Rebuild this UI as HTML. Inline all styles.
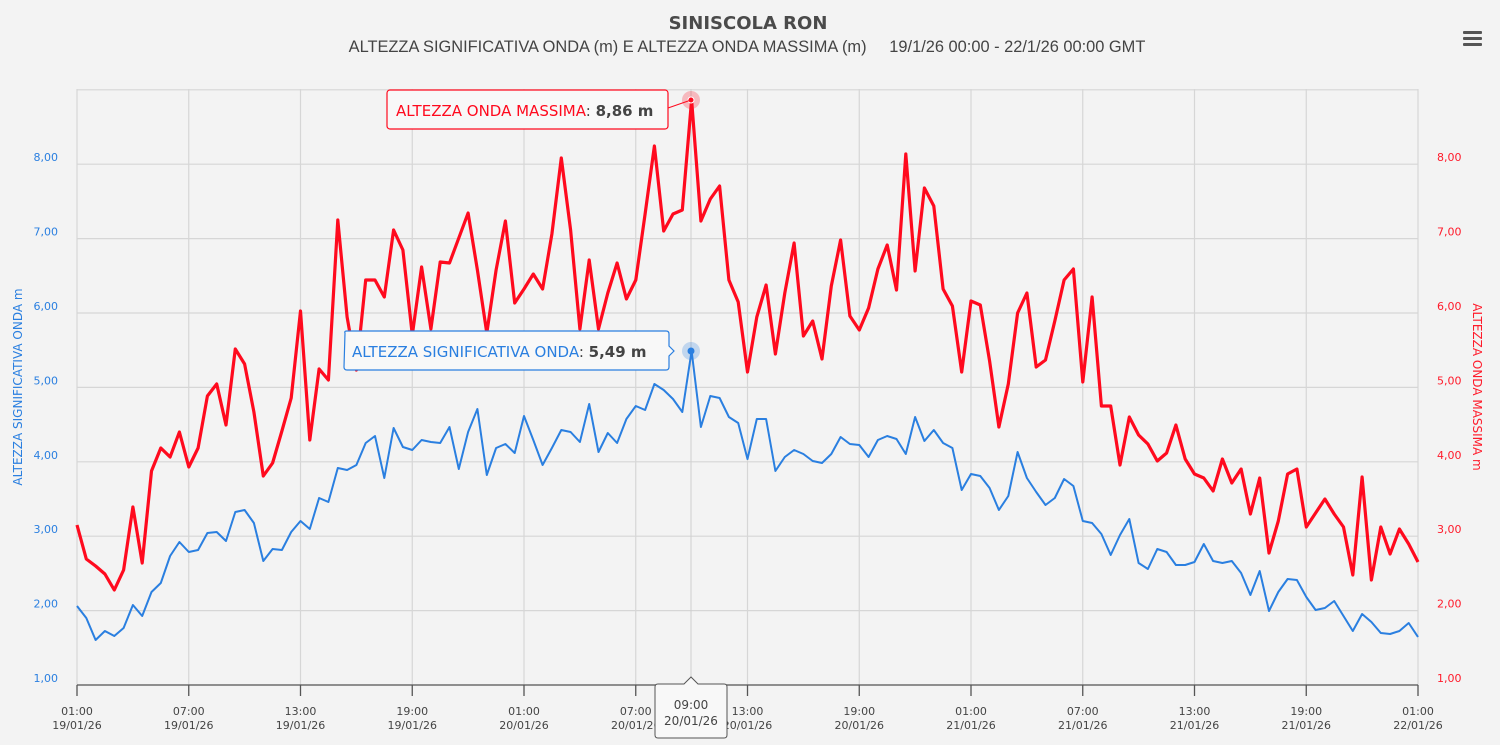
<!DOCTYPE html>
<html><head><meta charset="utf-8">
<style>
html,body{margin:0;padding:0;background:#f3f3f3;}
svg{display:block;font-family:"DejaVu Sans","Liberation Sans",sans-serif;}
</style></head>
<body>
<svg id="c" width="1500" height="745" viewBox="0 0 1500 745" xmlns="http://www.w3.org/2000/svg">
<rect width="1500" height="745" fill="#f3f3f3"/>
<g id="grid" stroke="#d6d6d6" stroke-width="1.2"></g>
<line x1="77" y1="685" x2="1418" y2="685" stroke="#555" stroke-width="1.3"/>
<g id="ticks" stroke="#555" stroke-width="1.3"></g>
<g id="lab" font-size="11" fill="#444"></g>
<text x="748" y="29" text-anchor="middle" font-size="18" font-weight="bold" fill="#4a4a4a">SINISCOLA RON</text>
<text x="747" y="52" text-anchor="middle" font-size="16.4" fill="#444" font-family="Liberation Sans, sans-serif">ALTEZZA SIGNIFICATIVA ONDA (m) E ALTEZZA ONDA MASSIMA (m)&#160;&#160;&#160;&#160; 19/1/26 00:00 - 22/1/26 00:00 GMT</text>
<g fill="#555"><rect x="1463" y="31" width="19" height="3" rx="1"/><rect x="1463" y="37" width="19" height="3" rx="1"/><rect x="1463" y="43" width="19" height="3" rx="1"/></g>
<text transform="translate(22,387) rotate(-90)" text-anchor="middle" font-size="12" fill="#2a7fe0">ALTEZZA SIGNIFICATIVA ONDA m</text>
<text transform="translate(1473,387) rotate(90)" text-anchor="middle" font-size="12" fill="#ff1a2a">ALTEZZA ONDA MASSIMA m</text>
<line x1="691" y1="89" x2="691" y2="685" stroke="#cfcfcf" stroke-width="1"/>
<polyline id="red" fill="none" stroke="#ff0a1e" stroke-width="3.2" stroke-linejoin="round"/>
<polyline id="blue" fill="none" stroke="#2a7fe0" stroke-width="2" stroke-linejoin="round"/>
<circle cx="691" cy="100" r="9" fill="#ff0a1e" opacity="0.25"/>
<circle cx="691" cy="100" r="3" fill="#ff0a1e" stroke="#fff" stroke-width="1"/>
<circle cx="691" cy="351" r="9" fill="#2a7fe0" opacity="0.25"/>
<circle cx="691" cy="351" r="3.5" fill="#2a7fe0"/>
<line x1="668" y1="108" x2="691" y2="100" stroke="#ff0a1e" stroke-width="1"/>
<rect x="387" y="90" width="281" height="39" rx="3" fill="#f8f8f8" stroke="#ff0a1e" stroke-width="1.2"/>
<text x="396" y="116" font-size="15" fill="#ff0a1e">ALTEZZA ONDA MASSIMA<tspan fill="#444">: </tspan><tspan font-weight="bold" fill="#444">8,86 m</tspan></text>
<path d="M345 333 Q344 331 347 331 L666 331 Q669 331 669 334 L669 346 L674 351 L669 356 L669 367 Q669 370 666 370 L347 370 Q344 370 344 367 Z" fill="#f8f8f8" stroke="#2a7fe0" stroke-width="1.2"/>
<text x="352" y="357" font-size="15" fill="#2a7fe0">ALTEZZA SIGNIFICATIVA ONDA<tspan fill="#444">: </tspan><tspan font-weight="bold" fill="#444">5,49 m</tspan></text>
<path d="M658 684 L684 684 L691 677 L698 684 L724 684 Q727 684 727 687 L727 735 Q727 738 724 738 L658 738 Q655 738 655 735 L655 687 Q655 684 658 684 Z" fill="#f8f8f8" stroke="#555" stroke-width="1"/>
<text x="691" y="709" text-anchor="middle" font-size="12" fill="#444">09:00</text>
<text x="691" y="725" text-anchor="middle" font-size="12" fill="#444">20/01/26</text>
</svg>
<script>
var NS="http://www.w3.org/2000/svg";
function el(t,a,p,txt){var e=document.createElementNS(NS,t);for(var k in a)e.setAttribute(k,a[k]);if(txt!=null)e.textContent=txt;p.appendChild(e);return e;}
var g=document.getElementById('grid'),tk=document.getElementById('ticks'),lb=document.getElementById('lab');
for(var v=1;v<=9;v++){var y=685-(v-1)*74.4;el('line',{x1:77,y1:y,x2:1418,y2:y},g);
 if(v<9){var s=v+",00";
 el('text',{x:58,y:y-3,'text-anchor':'end',fill:'#2a7fe0'},lb,s);
 el('text',{x:1437,y:y-3,'text-anchor':'start',fill:'#ff1a2a'},lb,s);}}
var hrs=["01:00","07:00","13:00","19:00"],days=["19/01/26","20/01/26","21/01/26","22/01/26"];
for(var i=0;i<=12;i++){var x=77+i*111.75;el('line',{x1:x,y1:89,x2:x,y2:685},g);el('line',{x1:x,y1:685,x2:x,y2:696},tk);
 el('text',{x:x,y:715,'text-anchor':'middle'},lb,hrs[i%4]);el('text',{x:x,y:729,'text-anchor':'middle'},lb,days[Math.floor(i/4)]);}
var R=[525,559,566,574,590,570,507,563,471,448,457,432,467,448,396,384,425,349,364,412,476,463,431,398,311,440,369,380,220,317,370,280,280,297,230,250,335,267,329,262,263,238,213,270,333,270,221,303,289,274,289,234,158,230,329,260,329,293,263,299,280,214,146,231,214,210,100,221,199,186,280,302,372,317,285,354,293,243,336,321,359,286,240,316,330,308,269,245,290,154,271,188,206,289,306,372,301,305,361,427,384,313,293,367,360,321,280,269,382,297,406,406,465,417,435,444,461,453,425,459,474,478,491,459,483,469,514,478,553,521,474,469,527,513,499,514,527,575,477,580,527,554,529,544,562];
var B=[606,618,640,631,636,628,605,616,592,583,556,542,552,550,533,532,541,512,510,523,561,549,550,532,521,529,498,502,468,470,465,443,436,478,428,447,450,440,442,443,427,469,432,409,475,448,444,453,416,440,465,448,430,432,442,404,452,433,443,419,406,410,384,390,399,412,351,427,396,398,417,423,459,419,419,471,457,450,454,461,463,454,437,444,445,457,440,436,439,454,417,441,430,443,448,490,474,476,488,510,496,452,478,492,505,498,479,486,521,523,534,555,535,519,563,569,549,552,565,565,562,544,561,563,561,573,595,571,611,592,579,580,597,610,608,601,616,631,614,622,633,634,631,623,637];
function pts(a){return a.map(function(y,i){return (77+i*9.3125).toFixed(1)+","+y;}).join(" ");}
document.getElementById('red').setAttribute('points',pts(R));
document.getElementById('blue').setAttribute('points',pts(B));
</script>
</body></html>
